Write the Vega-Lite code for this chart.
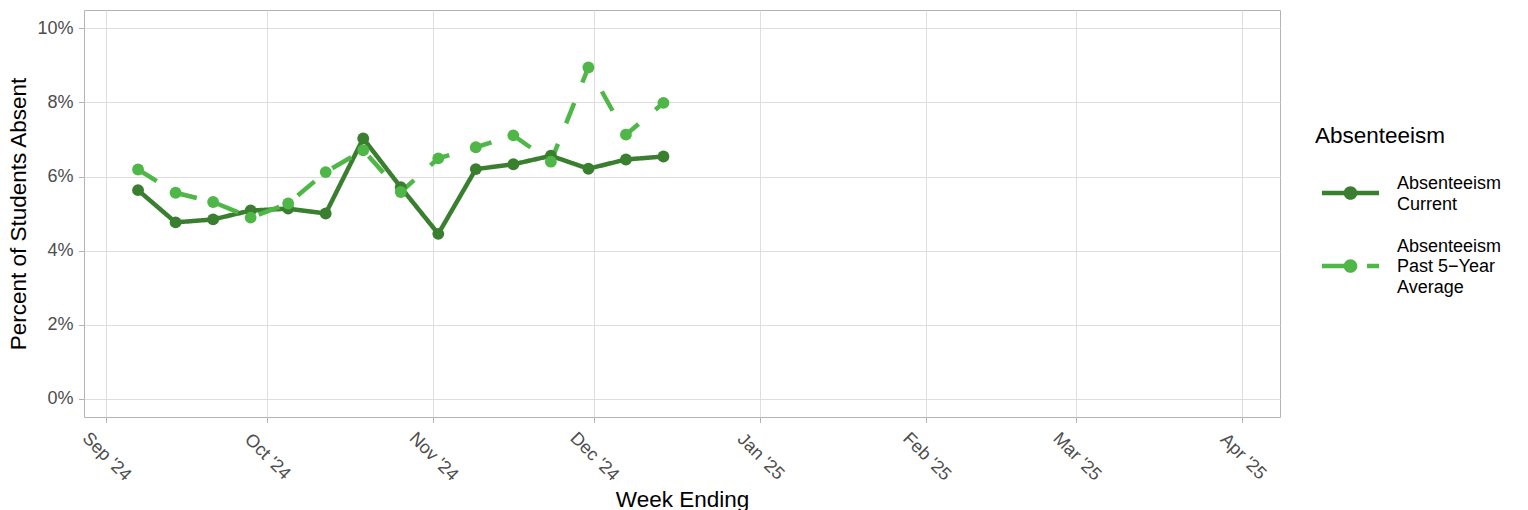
{
  "$schema": "https://vega.github.io/schema/vega-lite/v6.json",
  "width": 1196,
  "height": 407,
  "autosize": {"type": "none"},
  "padding": {"left": 84, "top": 10, "right": 248, "bottom": 93},
  "background": "white",
  "config": {
    "font": "Liberation Sans",
    "view": {"stroke": "#b3b3b3", "strokeWidth": 1},
    "axis": {
      "domain": false,
      "grid": true,
      "gridColor": "#dedede",
      "gridWidth": 1,
      "tickColor": "#b3b3b3",
      "tickSize": 5.5,
      "tickWidth": 1,
      "labelColor": "#4d4d4d",
      "labelFontSize": 18,
      "labelFont": "Liberation Sans",
      "titleFont": "Liberation Sans",
      "titleFontSize": 22.5,
      "titleFontWeight": "normal",
      "titleColor": "#000000"
    }
  },
  "data": {
    "values": [
      {"week": "2024-09-07", "series": "Absenteeism Current", "rate": 0.0563},
      {"week": "2024-09-14", "series": "Absenteeism Current", "rate": 0.0476},
      {"week": "2024-09-21", "series": "Absenteeism Current", "rate": 0.0484},
      {"week": "2024-09-28", "series": "Absenteeism Current", "rate": 0.0508},
      {"week": "2024-10-05", "series": "Absenteeism Current", "rate": 0.0513},
      {"week": "2024-10-12", "series": "Absenteeism Current", "rate": 0.0500},
      {"week": "2024-10-19", "series": "Absenteeism Current", "rate": 0.0703},
      {"week": "2024-10-26", "series": "Absenteeism Current", "rate": 0.0571},
      {"week": "2024-11-02", "series": "Absenteeism Current", "rate": 0.0445},
      {"week": "2024-11-09", "series": "Absenteeism Current", "rate": 0.0620},
      {"week": "2024-11-16", "series": "Absenteeism Current", "rate": 0.0633},
      {"week": "2024-11-23", "series": "Absenteeism Current", "rate": 0.0656},
      {"week": "2024-11-30", "series": "Absenteeism Current", "rate": 0.0621},
      {"week": "2024-12-07", "series": "Absenteeism Current", "rate": 0.0646},
      {"week": "2024-12-14", "series": "Absenteeism Current", "rate": 0.0654},
      {"week": "2024-09-07", "series": "Absenteeism Past 5−Year Average", "rate": 0.0619},
      {"week": "2024-09-14", "series": "Absenteeism Past 5−Year Average", "rate": 0.0556},
      {"week": "2024-09-21", "series": "Absenteeism Past 5−Year Average", "rate": 0.0531},
      {"week": "2024-09-28", "series": "Absenteeism Past 5−Year Average", "rate": 0.0489},
      {"week": "2024-10-05", "series": "Absenteeism Past 5−Year Average", "rate": 0.0527},
      {"week": "2024-10-12", "series": "Absenteeism Past 5−Year Average", "rate": 0.0612},
      {"week": "2024-10-19", "series": "Absenteeism Past 5−Year Average", "rate": 0.0671},
      {"week": "2024-10-26", "series": "Absenteeism Past 5−Year Average", "rate": 0.0558},
      {"week": "2024-11-02", "series": "Absenteeism Past 5−Year Average", "rate": 0.0649},
      {"week": "2024-11-09", "series": "Absenteeism Past 5−Year Average", "rate": 0.0679},
      {"week": "2024-11-16", "series": "Absenteeism Past 5−Year Average", "rate": 0.0711},
      {"week": "2024-11-23", "series": "Absenteeism Past 5−Year Average", "rate": 0.0640},
      {"week": "2024-11-30", "series": "Absenteeism Past 5−Year Average", "rate": 0.0895},
      {"week": "2024-12-07", "series": "Absenteeism Past 5−Year Average", "rate": 0.0713},
      {"week": "2024-12-14", "series": "Absenteeism Past 5−Year Average", "rate": 0.0799}
    ]
  },
  "encoding": {
    "x": {
      "field": "week",
      "type": "temporal",
      "scale": {
        "type": "utc",
        "domain": [
          {"year": 2024, "month": "aug", "date": 27, "hours": 22, "utc": true},
          {"year": 2025, "month": "apr", "date": 8, "utc": true}
        ]
      },
      "axis": {
        "values": [
          {"year": 2024, "month": "sep", "date": 1, "utc": true},
          {"year": 2024, "month": "oct", "date": 1, "utc": true},
          {"year": 2024, "month": "nov", "date": 1, "utc": true},
          {"year": 2024, "month": "dec", "date": 1, "utc": true},
          {"year": 2025, "month": "jan", "date": 1, "utc": true},
          {"year": 2025, "month": "feb", "date": 1, "utc": true},
          {"year": 2025, "month": "mar", "date": 1, "utc": true},
          {"year": 2025, "month": "apr", "date": 1, "utc": true}
        ],
        "labelExpr": "utcFormat(datum.value, \"%b '%y\")",
        "labelAngle": 45,
        "labelAlign": "center",
        "labelBaseline": "middle",
        "labelPadding": 34,
        "labelOverlap": false,
        "labelFlush": false,
        "title": "Week Ending",
        "titleY": 89,
        "titleBaseline": "alphabetic"
      }
    },
    "y": {
      "field": "rate",
      "type": "quantitative",
      "scale": {"domain": [-0.005, 0.105], "nice": false, "zero": false},
      "axis": {
        "values": [0, 0.02, 0.04, 0.06, 0.08, 0.1],
        "format": ".0%",
        "labelPadding": 5.5,
        "title": "Percent of Students Absent",
        "titleX": -59,
        "titleBaseline": "alphabetic"
      }
    },
    "color": {
      "field": "series",
      "type": "nominal",
      "scale": {
        "domain": ["Absenteeism Current", "Absenteeism Past 5−Year Average"],
        "range": ["#3a7f2f", "#4fb748"]
      },
      "legend": {
        "orient": "none",
        "legendX": 1231,
        "legendY": 115,
        "padding": 0,
        "title": "Absenteeism",
        "titleFontSize": 22.5,
        "titleFontWeight": "normal",
        "titleColor": "#000000",
        "titlePadding": 17,
        "labelFontSize": 18,
        "labelColor": "#000000",
        "labelLimit": 300,
        "symbolSize": 3249,
        "symbolStrokeWidth": 0,
        "symbolOffset": 7,
        "labelOffset": 18,
        "rowPadding": 24,
        "labelExpr": "datum.value == 'Absenteeism Current' ? ['Absenteeism', 'Current'] : ['Absenteeism', 'Past 5−Year', 'Average']",
        "encode": {
          "symbols": {
            "update": {
              "shape": {"signal": "datum.value == 'Absenteeism Current' ? 'M-1,-0.08H1V0.08H-1Z M-0.24,0A0.24,0.24,0,1,1,0.24,0A0.24,0.24,0,1,1,-0.24,0Z' : 'M-1,-0.08H-0.2V0.08H-1Z M0.58,-0.08H1V0.08H0.58Z M-0.24,0A0.24,0.24,0,1,1,0.24,0A0.24,0.24,0,1,1,-0.24,0Z'"},
              "fill": {"signal": "scale('color', datum.value)"},
              "stroke": {"value": "transparent"},
              "opacity": {"value": 1}
            }
          },
          "labels": {
            "update": {
              "lineHeight": {"value": 20.5},
              "dy": {"signal": "datum.value == 'Absenteeism Current' ? -9 : -19.5"}
            }
          }
        }
      }
    }
  },
  "layer": [
    {
      "mark": {"type": "line", "strokeWidth": 4.5, "strokeCap": "butt"},
      "encoding": {
        "strokeDash": {
          "field": "series",
          "type": "nominal",
          "scale": {
            "domain": ["Absenteeism Current", "Absenteeism Past 5−Year Average"],
            "range": [[1, 0], [22, 22]]
          },
          "legend": null
        }
      }
    },
    {
      "mark": {"type": "point", "filled": true, "size": 140, "opacity": 1, "strokeWidth": 0}
    }
  ]
}
